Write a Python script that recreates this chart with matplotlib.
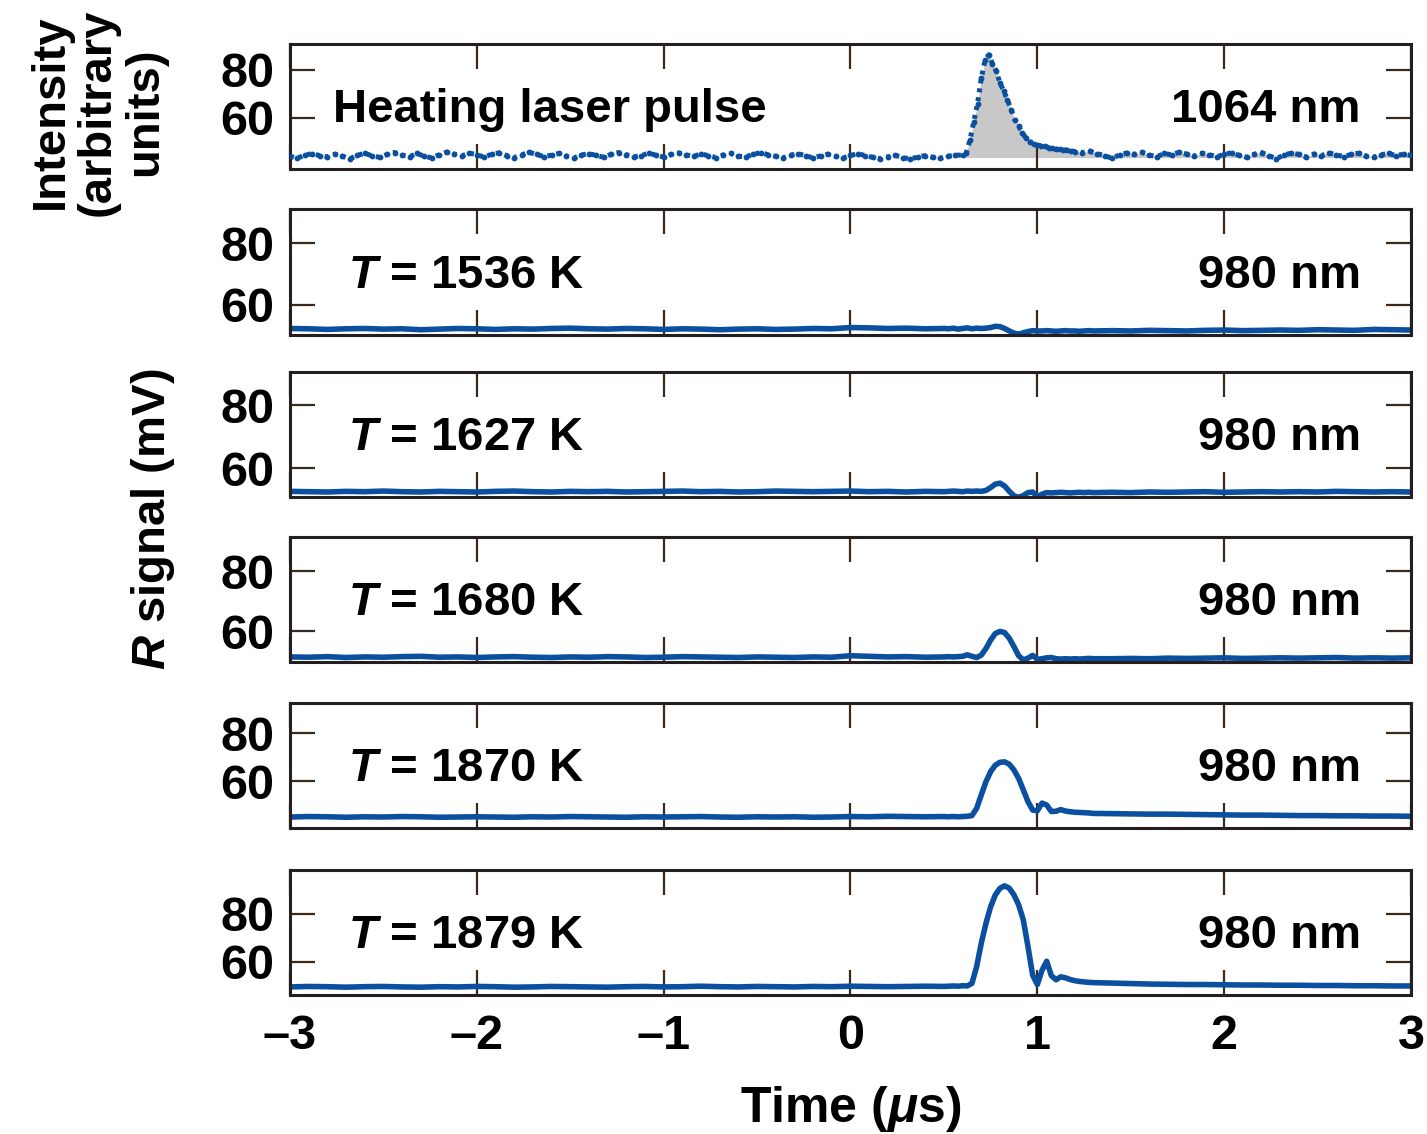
import numpy as np
import matplotlib
matplotlib.use('Agg')
import matplotlib.pyplot as plt

# heating laser pulse (1064 nm), arbitrary units
pulse_time = np.concatenate([np.linspace(-3, 0.56, 90),
                             np.linspace(0.6, 1.18, 30),
                             np.linspace(1.2, 3.0, 46)])
pulse_intensity = [
    44.0, 43.2, 44.6, 45.1, 44.3, 43.8, 44.9, 44.1, 43.0, 44.4,
    45.3, 44.2, 43.6, 44.8, 45.6, 44.5, 43.9, 45.2, 44.0, 43.4,
    44.7, 45.8, 44.9, 44.2, 45.4, 44.6, 43.7, 44.9, 45.5, 44.3,
    43.5, 44.6, 45.7, 44.8, 43.9, 44.5, 45.2, 44.1, 43.3, 44.6,
    45.1, 44.4, 43.6, 44.9, 45.6, 44.7, 43.8, 44.3, 45.3, 44.5,
    43.7, 44.8, 45.4, 44.6, 44.0, 45.0, 44.3, 43.5, 44.6, 45.2,
    44.1, 43.8, 44.9, 45.5, 44.7, 44.0, 43.4, 44.5, 45.1, 44.2,
    43.4, 44.2, 44.9, 44.0, 43.3, 44.4, 45.1, 44.3, 43.6, 43.0,
    43.8, 44.4, 43.5, 42.9, 43.7, 44.3, 43.6, 43.2, 44.0, 44.5,
    44.5, 45.5, 51.0, 58.5, 66.0, 76.5, 84.0, 86.3, 82.5, 79.5,
    74.5, 71.3, 67.5, 63.5, 59.2, 56.5, 53.8, 51.5, 50.1, 49.3,
    48.7, 48.4, 48.2, 47.6, 47.4, 46.9, 47.1, 46.5, 46.8, 46.2,
    46.0, 45.6, 46.2, 45.1, 44.3, 43.2, 44.6, 45.4, 44.8, 45.7,
    44.5, 43.9, 45.2, 44.6, 45.8, 44.9, 44.1, 45.3, 44.7, 43.8,
    44.9, 45.5, 44.4, 43.6, 44.8, 45.6, 44.2, 43.1, 44.5, 45.4,
    44.8, 43.7, 45.0, 44.3, 45.5, 44.6, 43.9, 44.8, 45.3, 44.1,
    43.6, 44.7, 45.2, 44.3, 44.9, 44.4,
]
pulse_floor = 43.5

# R signal at 980 nm (mV)
signal_time = np.concatenate([np.linspace(-3, 0.5, 36),
                              np.linspace(0.525, 1.3, 32),
                              np.linspace(1.4, 3.0, 17)])
r_1536 = [
    52.4, 52.3, 52.1, 52.3, 52.4, 52.2, 52.3, 52.0, 52.2, 52.4,
    52.3, 52.1, 52.3, 52.2, 52.4, 52.5, 52.3, 52.2, 52.4, 52.3,
    52.1, 52.3, 52.2, 52.0, 52.2, 52.3, 52.1, 52.2, 52.4, 52.3,
    52.7, 52.6, 52.4, 52.5, 52.3, 52.4,
    52.3, 52.5, 52.2, 52.4, 52.6, 52.3, 52.5, 52.4, 52.5, 52.7,
    53.1, 53.0, 52.4, 51.6, 50.9, 50.6, 51.0, 51.4, 51.7, 51.6,
    51.6, 51.7, 51.6, 51.5, 51.6, 51.7, 51.6, 51.6, 51.5, 51.6,
    51.7, 51.6,
    51.7, 51.6, 51.8, 51.7, 51.6, 51.8, 51.9, 51.7, 51.8, 51.9,
    51.8, 52.0, 51.9, 51.8, 52.1, 52.0, 51.9,
]
r_1627 = [
    52.6, 52.5, 52.4, 52.6, 52.5, 52.7, 52.5, 52.4, 52.6, 52.5,
    52.4, 52.6, 52.7, 52.5, 52.4, 52.6, 52.5, 52.6, 52.4, 52.5,
    52.6, 52.7, 52.5, 52.6, 52.4, 52.5, 52.7, 52.6, 52.5, 52.6,
    52.7, 52.5, 52.6, 52.4, 52.6, 52.5,
    52.6, 52.7, 52.6, 52.5, 52.7, 52.6, 52.7, 52.6, 52.9, 53.8,
    54.9, 55.2, 54.3, 52.6, 51.2, 50.7, 51.3, 52.2, 52.4, 50.9,
    51.7, 52.2, 52.1, 52.2, 52.3, 52.2, 52.1, 52.2, 52.3, 52.2,
    52.3, 52.2,
    52.3, 52.2, 52.4, 52.3, 52.4, 52.5, 52.3, 52.4, 52.5, 52.4,
    52.5, 52.4, 52.6, 52.5, 52.4, 52.5, 52.4,
]
r_1680 = [
    51.4, 51.3, 51.5, 51.2, 51.4, 51.3, 51.5, 51.6, 51.3, 51.4,
    51.2, 51.4, 51.5, 51.3, 51.2, 51.4, 51.3, 51.5, 51.4, 51.2,
    51.3, 51.5, 51.4, 51.3, 51.2, 51.4, 51.3, 51.2, 51.4, 51.3,
    51.8, 51.6, 51.4, 51.5, 51.3, 51.4,
    51.5, 51.4, 51.5, 51.6, 52.1, 51.6, 51.2, 52.0, 54.2, 57.0,
    59.2, 59.9, 59.5, 57.6, 54.8, 51.8, 50.4, 51.0, 51.9, 50.6,
    50.8, 51.1, 51.2, 50.8, 50.7, 50.8, 50.7, 50.8, 50.7, 50.8,
    50.9, 50.8,
    50.8, 50.9, 50.8, 51.0, 50.9, 51.0, 51.1, 50.9, 51.0, 51.1,
    51.0, 51.1, 51.2, 51.0, 51.1, 51.0, 51.1,
]
r_1870 = [
    45.0, 45.2, 45.1, 44.9, 45.1, 45.0, 45.2, 45.1, 44.9, 45.0,
    45.1, 45.0, 44.9, 45.1, 45.0, 45.2, 45.1, 45.0, 44.9, 45.1,
    45.0, 45.1, 45.2, 45.0, 44.9, 45.1, 45.0, 45.1, 44.9, 45.0,
    45.2, 45.1, 45.3, 45.2, 45.1, 45.2,
    45.1, 45.2, 45.1, 45.2, 45.3, 45.6, 48.6, 54.2, 59.7, 63.9,
    66.6, 67.8, 68.0, 67.0, 64.6, 61.1, 56.3, 51.4, 47.9, 47.6,
    50.8, 50.0, 47.3, 47.4, 48.1, 47.5, 47.2, 47.0, 46.9, 46.8,
    46.7, 46.5,
    46.4, 46.3, 46.2, 46.2, 46.1, 46.0, 45.9, 45.8, 45.8, 45.7,
    45.6, 45.6, 45.5, 45.5, 45.4, 45.4, 45.3,
]
r_1879 = [
    49.6, 49.8, 49.7, 49.5, 49.7, 49.8, 49.6, 49.5, 49.7, 49.6,
    49.8, 49.7, 49.5, 49.6, 49.8, 49.7, 49.6, 49.5, 49.7, 49.8,
    49.6, 49.7, 49.9, 49.7, 49.6, 49.8, 49.7, 49.6, 49.8, 49.7,
    49.9, 49.8, 49.7, 49.8, 49.9, 49.8,
    49.9, 50.0, 49.9, 50.1, 50.0, 51.1, 58.0, 67.8, 76.1, 83.0,
    87.9, 90.7, 91.7, 90.7, 87.9, 83.8, 77.5, 66.4, 54.5, 50.6,
    56.5, 60.3, 54.3, 52.6, 53.8, 53.4, 52.7, 52.2, 51.9, 51.7,
    51.5, 51.4,
    51.2, 51.0, 50.8, 50.7, 50.6, 50.6, 50.5, 50.4, 50.4, 50.3,
    50.3, 50.2, 50.2, 50.1, 50.1, 50.0, 50.0,
]

temperatures = [1536, 1627, 1680, 1870, 1879]
signals = [r_1536, r_1627, r_1680, r_1870, r_1879]
x_ticks = [-3, -2, -1, 0, 1, 2, 3]
x_tick_labels = ['\u20133', '\u20132', '\u20131', '0', '1', '2', '3']
y_ticks = [60, 80]

# layout (figure fractions) and y ranges of each panel
panel_bottoms = [0.8510, 0.7046, 0.5617, 0.4162, 0.2698, 0.1226]
panel_heights = [0.1102, 0.1111, 0.1102, 0.1102, 0.1102, 0.1102]
y_limits = [(38.75, 90.8), (50.3, 91.0), (50.8, 90.5),
            (49.7, 91.3), (40.4, 92.5), (46.25, 98.3)]

BLUE = '#0b4f9f'
TICK = '#3a2a1e'
SPINE = '#231f20'

plt.rcParams['font.family'] = ['Liberation Sans', 'DejaVu Sans']
plt.rcParams['font.weight'] = 'bold'
plt.rcParams['mathtext.fontset'] = 'custom'
plt.rcParams['mathtext.rm'] = 'Liberation Sans:bold'
plt.rcParams['mathtext.it'] = 'Liberation Sans:italic:bold'
plt.rcParams['mathtext.bf'] = 'Liberation Sans:bold'


def style_axes(ax, ylim, last):
	ax.set_xlim(-3, 3)
	ax.set_ylim(*ylim)
	ax.set_xticks(x_ticks)
	ax.set_yticks(y_ticks)
	ax.tick_params(axis='both', direction='in', length=18, width=1.6,
				   color=TICK, top=True, right=True, labelsize=35, pad=11)
	ax.tick_params(axis='x', pad=14)
	for sp in ax.spines.values():
		sp.set_linewidth(2.2)
		sp.set_color(SPINE)
	if last:
		ax.set_xticklabels(x_tick_labels)
	else:
		ax.set_xticklabels([])


fig = plt.figure(figsize=(14.27, 11.34), dpi=100)
axes = [fig.add_axes([0.2032, b, 0.7856, h]) for b, h in zip(panel_bottoms, panel_heights)]

# top panel: laser pulse
ax = axes[0]
pi = np.array(pulse_intensity)
ax.fill_between(pulse_time, np.maximum(pi, pulse_floor), pulse_floor,
				where=pulse_time >= 0.6, color='#c8c8c8', lw=0, zorder=1)
ax.plot(pulse_time, pi, ls=(0, (0.8, 1.0)), lw=3.6, color=BLUE,
		dash_capstyle='butt', zorder=2)
ax.plot(pulse_time, pi, ls='none', marker='o', ms=4.2, mew=0,
		color=BLUE, zorder=3)
style_axes(ax, y_limits[0], False)
ax.text(0.038, 0.47, 'Heating laser pulse', transform=ax.transAxes,
		fontsize=34, fontweight='bold', va='center', ha='left')
ax.text(0.955, 0.47, '1064 nm', transform=ax.transAxes,
		fontsize=34, fontweight='bold', va='center', ha='right')

# R signal panels
for i, (temp, sig) in enumerate(zip(temperatures, signals)):
	ax = axes[i + 1]
	ax.plot(signal_time, sig, lw=4, color=BLUE, solid_joinstyle='round')
	style_axes(ax, y_limits[i + 1], i == len(signals) - 1)
	ax.text(0.052, 0.47, r'$T$ = %d K' % temp, transform=ax.transAxes,
			fontsize=34, fontweight='bold', va='center', ha='left')
	ax.text(0.955, 0.47, '980 nm', transform=ax.transAxes,
			fontsize=34, fontweight='bold', va='center', ha='right')

axes[-1].set_xlabel(r'Time ($\mu$s)', fontsize=36, fontweight='bold', labelpad=18)

fig.text(98 / 1427, 1 - 112 / 1134, 'Intensity\n(arbitrary\nunits)', rotation=90,
		 fontsize=34, fontweight='bold', ha='center', va='center', linespacing=1.1)
fig.text(153 / 1427, 1 - 519 / 1134, r'$R$ signal (mV)', rotation=90,
		 fontsize=34, fontweight='bold', ha='center', va='center')

fig.savefig('out.png', dpi=100)
